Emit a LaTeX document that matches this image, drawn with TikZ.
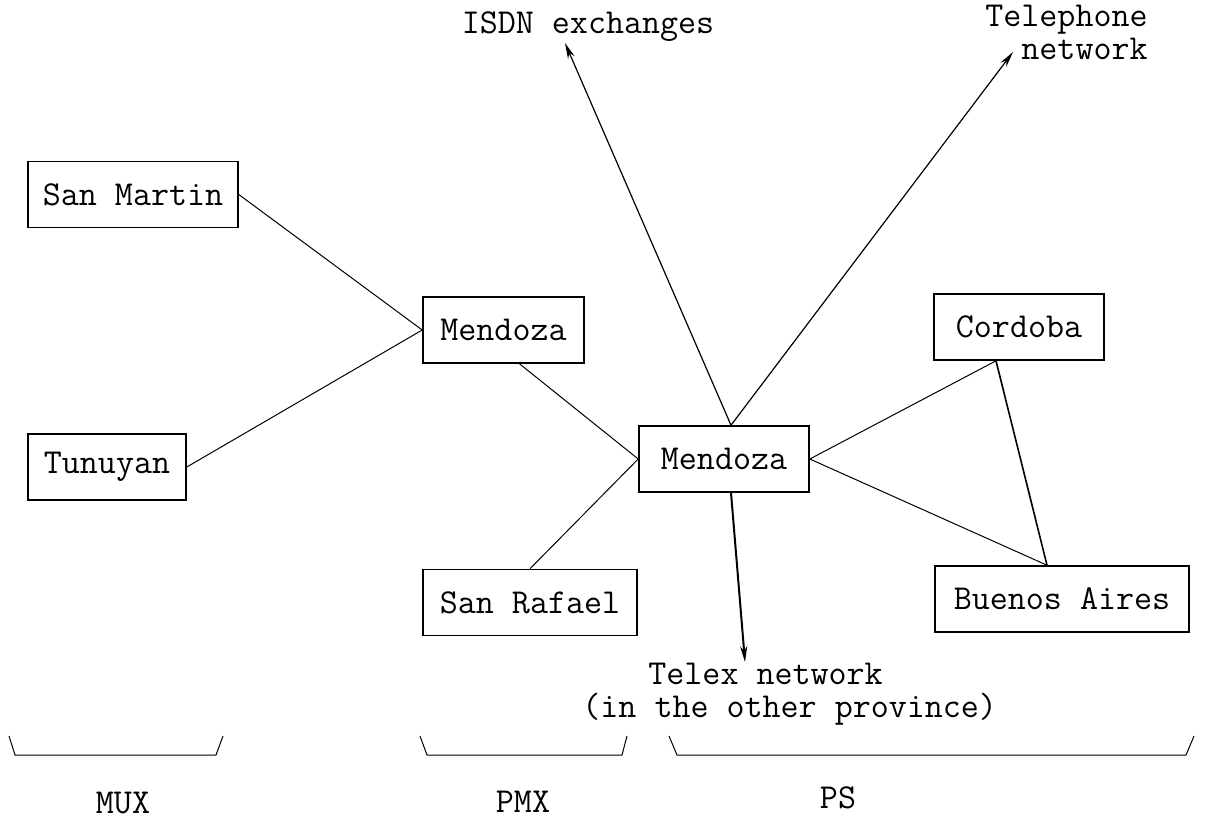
\documentclass[tikz,border=0pt]{standalone}
\usetikzlibrary{arrows.meta}
\begin{document}
\begin{tikzpicture}[x=0.5pt, y=-0.5pt,
  every node/.style={font=\fontsize{17.5}{16.5}\selectfont\ttfamily},
  place/.style={draw, line width=0.8pt, minimum height=33pt, inner sep=0pt},
  link/.style={line width=0.5pt},
  feed/.style={line width=0.6pt, -{Stealth[length=8pt, width=3.6pt]}}]

        \useasboundingbox (0,0) rectangle (1208,820);

        % MUX level
        \node[place, minimum width=105pt] (SanMartin) at (133,194.5) {San Martin};
        \node[place, minimum width=79pt] (Tunuyan) at (107,467) {Tunuyan};

        % PMX level
        \node[place, minimum width=80.5pt] (MendozaP) at (503.5,330) {Mendoza};
        \node[place, minimum width=107pt] (SanRafael) at (530,602.5) {San Rafael};

        % PS level
        \node[place, minimum width=85pt] (MendozaS) at (724,459) {Mendoza};
        \node[place, minimum width=85pt] (Cordoba) at (1019,327) {Cordoba};
        \node[place, minimum width=127pt] (BuenosAires) at (1062,599) {Buenos Aires};

        % Outside networks
        \node[anchor=base, inner sep=0pt] (ISDN) at (588,33) {ISDN exchanges};
        \node[anchor=north east, align=right, inner sep=0pt] (Phone) at (1148,5) {Telephone\\network};
        \node[anchor=north west, align=left, inner sep=0pt] (Telex) at (582,663)
          {\hspace*{33pt}Telex network\\(in the other province)};
        \coordinate (ISDNtip) at (565,43);
        \coordinate (PhoneTip) at (1013,52);
        \coordinate (TelexTip) at (745,662);

        % Links into the PMX
        \draw[link] (SanMartin.east) -- (MendozaP.west);
        \draw[link] (Tunuyan.east) -- (MendozaP.west);

        % Links into the PS
        \draw[link] ([xshift=8pt]MendozaP.south) -- (MendozaS.west);
        \draw[link] (SanRafael.north) -- (MendozaS.west);
        \draw[link] (MendozaS.east) -- ([xshift=-11.5pt]Cordoba.south);
        \draw[link] (MendozaS.east) -- ([xshift=-7.5pt]BuenosAires.north);
        \draw[link, line width=0.8pt] ([xshift=-11.5pt]Cordoba.south) -- ([xshift=-7.5pt]BuenosAires.north);

        % Arrows out of the PS
        \draw[feed] ([xshift=3.5pt]MendozaS.north) -- (ISDNtip);
        \draw[feed] ([xshift=3.5pt]MendozaS.north) -- (PhoneTip);
        \draw[feed, line width=1pt] ([xshift=3.5pt]MendozaS.south) -- (TelexTip);

        % Level brackets
        \draw[link] (9,736) -- (15,755) -- (216,755) -- (223,736);
        \draw[link] (420,736) -- (427,755) -- (622,755) -- (627,736);
        \draw[link] (669,736) -- (677,755) -- (1186,755) -- (1194,736);
        \node (MUX) at (123,803) {MUX};
        \node (PMX) at (523,802) {PMX};
        \node (PS) at (838,798) {PS};

\end{tikzpicture}
\end{document}
